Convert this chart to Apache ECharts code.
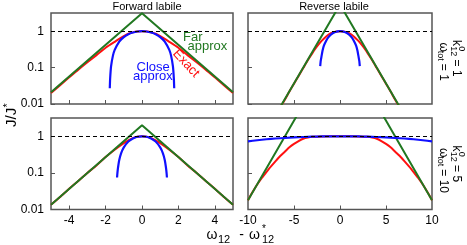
<!DOCTYPE html>
<html><head><meta charset="utf-8">
<script src="https://cdn.jsdelivr.net/npm/echarts@6/dist/echarts.min.js"></script>
<style>html,body{margin:0;padding:0;background:#fff}#c{width:467px;height:245px}</style>
</head><body><div id="c"></div>
<script>
const FONT = 'Liberation Sans, Arial, sans-serif';
const panelTitles = ['Forward labile', 'Reverse labile'];
const xTicksFwd = [-4, -2, 0, 2, 4];
const xLabelsRev = [-10, -5, 0, 5, 10];
const xTicksRev = [-5, 0, 5];
const yTicks = [0.01, 0.1, 1];
const yTickLabels = ['0.01', '0.1', '1'];
const refLevel = 1;

// Top-left: forward labile, k12=1, wtot=1
const tlFar = [[-5, 0.021], [0, 3.1], [5, 0.021]];
const tlExact = [[-5, 0.020], [-4.5, 0.033], [-4, 0.054], [-3.5, 0.088], [-3, 0.14], [-2.5, 0.22], [-2, 0.35], [-1.5, 0.51], [-1, 0.73], [-0.75, 0.85], [-0.5, 0.93], [-0.25, 0.98], [0, 1], [0.25, 0.98], [0.5, 0.93], [0.75, 0.85], [1, 0.73], [1.5, 0.51], [2, 0.35], [2.5, 0.22], [3, 0.14], [3.5, 0.088], [4, 0.054], [4.5, 0.033], [5, 0.020]];
const tlClose = [[-1.77, 0.027], [-1.75, 0.05], [-1.7, 0.108], [-1.6, 0.21], [-1.5, 0.306], [-1.25, 0.52], [-1, 0.69], [-0.75, 0.83], [-0.5, 0.92], [-0.25, 0.98], [0, 1], [0.25, 0.98], [0.5, 0.92], [0.75, 0.83], [1, 0.69], [1.25, 0.52], [1.5, 0.306], [1.6, 0.21], [1.7, 0.108], [1.75, 0.05], [1.77, 0.027]];

// Top-right: reverse labile, k12=1, wtot=1
const trFar = [[-7, 0.005], [0, 5.4], [7, 0.005]];
const trExact = [[-7, 0.005], [-6.5, 0.0081], [-6, 0.013], [-5.5, 0.022], [-5, 0.036], [-4.5, 0.059], [-4, 0.097], [-3.5, 0.16], [-3, 0.25], [-2.5, 0.38], [-2, 0.54], [-1.5, 0.72], [-1, 0.88], [-0.5, 0.97], [0, 1], [0.5, 0.97], [1, 0.88], [1.5, 0.72], [2, 0.54], [2.5, 0.38], [3, 0.25], [3.5, 0.16], [4, 0.097], [4.5, 0.059], [5, 0.036], [5.5, 0.022], [6, 0.013], [6.5, 0.0081], [7, 0.005]];
const trClose = [[-2.15, 0.11], [-2.1, 0.15], [-2, 0.21], [-1.9, 0.29], [-1.75, 0.4], [-1.5, 0.55], [-1.25, 0.69], [-1, 0.8], [-0.75, 0.89], [-0.5, 0.95], [-0.25, 0.99], [0, 1], [0.25, 0.99], [0.5, 0.95], [0.75, 0.89], [1, 0.8], [1.25, 0.69], [1.5, 0.55], [1.75, 0.4], [1.9, 0.29], [2, 0.21], [2.1, 0.15], [2.15, 0.11]];

// Bottom-left: forward labile, k12=5, wtot=10
const blFar = [[-5, 0.0135], [0, 2.0], [5, 0.0135]];
const blExact = [[-5, 0.0135], [-4.5, 0.022], [-4, 0.037], [-3.5, 0.06], [-3, 0.1], [-2.5, 0.16], [-2, 0.27], [-1.5, 0.43], [-1, 0.65], [-0.75, 0.77], [-0.5, 0.89], [-0.25, 0.97], [0, 1], [0.25, 0.97], [0.5, 0.89], [0.75, 0.77], [1, 0.65], [1.5, 0.43], [2, 0.27], [2.5, 0.16], [3, 0.1], [3.5, 0.06], [4, 0.037], [4.5, 0.022], [5, 0.0135]];
const blClose = [[-1.37, 0.075], [-1.35, 0.1], [-1.32, 0.136], [-1.25, 0.225], [-1.15, 0.344], [-1, 0.5], [-0.75, 0.72], [-0.5, 0.876], [-0.25, 0.97], [0, 1], [0.25, 0.97], [0.5, 0.876], [0.75, 0.72], [1, 0.5], [1.15, 0.344], [1.25, 0.225], [1.32, 0.136], [1.35, 0.1], [1.37, 0.075]];

// Bottom-right: reverse labile, k12=5, wtot=10
const brFar = [[-10, 0.018], [0, 400], [10, 0.018]];
const brExact = [[-10, 0.018], [-9.5, 0.03], [-9, 0.048], [-8.5, 0.073], [-8, 0.105], [-7.5, 0.15], [-7, 0.21], [-6.5, 0.29], [-6, 0.38], [-5.5, 0.5], [-5, 0.62], [-4.5, 0.74], [-4, 0.86], [-3.5, 0.93], [-3, 0.97], [-2, 0.995], [-1, 1], [0, 1], [1, 1], [2, 0.995], [3, 0.97], [3.5, 0.93], [4, 0.86], [4.5, 0.74], [5, 0.62], [5.5, 0.5], [6, 0.38], [6.5, 0.29], [7, 0.21], [7.5, 0.15], [8, 0.105], [8.5, 0.073], [9, 0.048], [9.5, 0.03], [10, 0.018]];
const brClose = [[-10, 0.73], [-9, 0.78], [-8, 0.83], [-7, 0.87], [-6, 0.9], [-5, 0.93], [-4, 0.957], [-3, 0.976], [-2, 0.99], [-1, 0.997], [0, 1], [1, 0.997], [2, 0.99], [3, 0.976], [4, 0.957], [5, 0.93], [6, 0.9], [7, 0.87], [8, 0.83], [9, 0.78], [10, 0.73]];

const GREEN = '#217821', RED = '#ff1010', BLUE = '#1010ff', FRAME = '#555';

const panels = [
  {left: 51, top: 13, width: 182, height: 91, xr: [-5, 5], xl: xTicksFwd, xt: xTicksFwd, showX: false, showY: true, far: tlFar, exact: tlExact, close: tlClose},
  {left: 248, top: 13, width: 184, height: 91, xr: [-10, 10], xl: xLabelsRev, xt: xTicksRev, showX: false, showY: false, far: trFar, exact: trExact, close: trClose},
  {left: 51, top: 118, width: 182, height: 91.5, xr: [-5, 5], xl: xTicksFwd, xt: xTicksFwd, showX: true, showY: true, far: blFar, exact: blExact, close: blClose},
  {left: 248, top: 118, width: 184, height: 91.5, xr: [-10, 10], xl: xLabelsRev, xt: xTicksRev, showX: true, showY: false, far: brFar, exact: brExact, close: brClose}
];

const grid = [], xAxis = [], yAxis = [], series = [];
panels.forEach((p, i) => {
  grid.push({left: p.left, top: p.top, width: p.width, height: p.height, show: true, borderColor: FRAME, borderWidth: 1.5, backgroundColor: 'transparent'});
  xAxis.push({
    type: 'value', gridIndex: i, min: p.xr[0], max: p.xr[1], position: 'bottom',
    axisLine: {show: false, onZero: false}, splitLine: {show: false},
    axisTick: {show: true, inside: true, length: 4, customValues: p.xt, lineStyle: {color: FRAME, width: 1}},
    axisLabel: {show: p.showX, customValues: p.xl, margin: 5, fontSize: 12, color: '#000', fontFamily: FONT}
  });
  yAxis.push({
    type: 'log', logBase: 10, gridIndex: i, min: 0.01, max: 3.1623, position: 'left',
    axisLine: {show: false, onZero: false}, splitLine: {show: false},
    axisTick: {show: true, inside: true, length: 4, customValues: yTicks, lineStyle: {color: FRAME, width: 1}},
    axisLabel: {show: p.showY, customValues: yTicks, margin: 7, fontSize: 12, color: '#000', fontFamily: FONT,
      formatter: v => { const k = yTicks.findIndex(t => Math.abs(Math.log10(t) - Math.log10(v)) < 1e-6); return k >= 0 ? yTickLabels[k] : ''; }}
  });
  const base = {type: 'line', xAxisIndex: i, yAxisIndex: i, symbol: 'none', showSymbol: false, clip: true, silent: true, animation: false};
  series.push(Object.assign({}, base, {data: p.exact, smooth: 0.2, lineStyle: {color: RED, width: 2}, z: 2,
    markLine: {silent: true, symbol: 'none', animation: false, label: {show: false}, lineStyle: {color: '#000', type: [4, 3], width: 1}, data: [{yAxis: refLevel}]}}));
  series.push(Object.assign({}, base, {data: p.far, lineStyle: {color: GREEN, width: 2}, z: 3}));
  series.push(Object.assign({}, base, {data: p.close, smooth: 0.2, lineStyle: {color: BLUE, width: 2.2}, z: 4}));
});

function t(x, y, text, size, opts) {
  return Object.assign({type: 'text', x: x, y: y, style: Object.assign({text: text, fontSize: size, fontFamily: FONT, fill: '#000', align: 'left', verticalAlign: 'middle'}, opts || {})});
}
function sideLabel(x0, y0, kv, wv) {
  return {type: 'group', x: x0, y: y0, rotation: -Math.PI / 2, children: [
    t(0, 0, 'k', 12), t(6.2, -5, '0', 9), t(6.2, 3, '12', 9), t(16.2, 0, ' = ' + kv, 12),
    t(2.5, 13, 'ω', 12), t(10.8, 16, 'tot', 9), t(20.5, 13, ' = ' + wv, 12)
  ]};
}

const graphic = [
  t(147, 6.5, panelTitles[0], 11, {align: 'center'}),
  t(334, 6.5, panelTitles[1], 11, {align: 'center'}),
  t(183, 37, 'Far', 13, {fill: GREEN}),
  t(187.5, 46.5, 'approx', 13, {fill: GREEN}),
  Object.assign(t(186, 63.5, 'Exact', 13, {fill: RED, align: 'center'}), {rotation: -0.82}),
  t(136.5, 67.5, 'Close', 13, {fill: BLUE}),
  t(133, 76.5, 'approx', 13, {fill: BLUE}),
  sideLabel(456, 40, '1', '1'),
  sideLabel(456, 145.5, '5', '10'),
  {type: 'group', x: 12, y: 127, rotation: Math.PI / 2, children: [t(0, 0, 'J/J', 15), t(19.5, -4, '*', 11)]},
  t(206.5, 235.5, 'ω', 14), t(218, 239.5, '12', 11),
  t(241.5, 235.5, '-', 14, {align: 'center'}),
  t(249, 235.5, 'ω', 14), t(262, 229, '*', 10), t(262, 239.5, '12', 11)
];

const chart = echarts.init(document.getElementById('c'), null, {renderer: 'canvas'});
chart.setOption({animation: false, backgroundColor: '#fff', grid, xAxis, yAxis, series, graphic});
</script></body></html>
